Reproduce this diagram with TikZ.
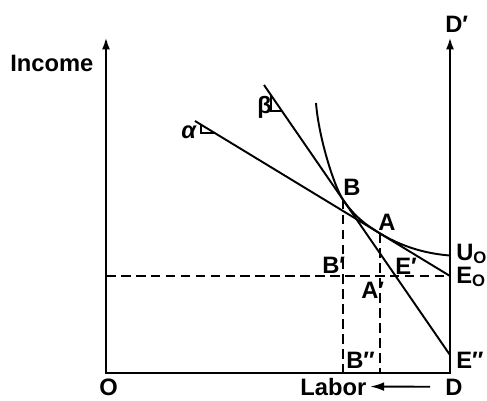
\documentclass[tikz,border=0pt]{standalone}
\usepackage{fontspec}
\setmainfont{Liberation Sans}
\usetikzlibrary{arrows.meta}

\newcommand{\lowsub}[1]{\raisebox{-0.3ex}{\fontsize{9.5}{10}\selectfont #1}}

\tikzset{
    axis/.style={line width=1.5pt, line join=miter},
    budget/.style={line width=1.1pt},
    guide/.style={line width=1pt, dash pattern=on 5.5pt off 3pt},
    lbl/.style={font=\fontsize{13.5}{16}\selectfont\bfseries, inner sep=0pt, anchor=base west},
    tip/.style={-{Latex[length=8pt,width=5pt]}},
}

\begin{document}
\begin{tikzpicture}[x=0.2cm,y=0.2cm]
    \useasboundingbox (-10.6,-2.7) rectangle (38.1,37.3);
    % puntos
    \coordinate (O) at (0,0);
    \coordinate (D) at (34.4,0);
    \coordinate (Itop) at (0,33.6);
    \coordinate (Dtop) at (34.4,33.6);
    \coordinate (H) at (0,9.7);
    \coordinate (E0) at (34.4,9.7);
    \coordinate (Epp) at (34.4,1.8);
    \coordinate (U0) at (34.4,11.75);
    \coordinate (alphaS) at (8.9,25.2);
    \coordinate (betaS) at (15.8,28.8);
    \coordinate (B) at (23.7,17.33);
    \coordinate (A) at (27.4,13.96);
    \coordinate (Utop) at (21.0,27.0);
    % ejes
    \draw[axis, {Latex[length=7pt,width=4.5pt]}-{Latex[length=7pt,width=4.5pt]}] (Itop) -- (O) -- (D) -- (Dtop);
    % lineas punteadas
    \draw[guide] (H) -- (E0);
    \draw[guide] (B) -- (B |- O);
    \draw[guide] (A) -- (A |- O);
    % rectas y curva
    \draw[budget] (alphaS) -- (E0);
    \draw[budget] (betaS) -- (Epp);
    \draw[budget] (Utop) .. controls (21.3,23.3) and (22.9,18.49) .. (B)
        .. controls (24.9,15.59) and (26.0,14.81) .. (A)
        .. controls (29.9,12.44) and (32.4,11.9) .. (U0);
    % angulos
    \path (alphaS) -- (E0) coordinate[pos=0.024] (a1) coordinate[pos=0.078] (a2);
    \path (betaS) -- (Epp) coordinate[pos=0.038] (b1) coordinate[pos=0.096] (b2);
    \draw[line width=1pt] (a1) |- (a2);
    \draw[line width=1pt] (b1) |- (b2);
    % etiquetas
    \node[lbl] (income) at (-9.6,30.1) {Income};
    \node[lbl] (o) at (-0.7,-2.2) {O};
    \node[lbl] (d) at (33.9,-2.2) {D};
    \node[lbl] (labor) at (19.4,-2.2) {Labor};
    \node[lbl] (dp) at (33.9,34.0) {D′};
    \node[lbl] (alpha) at (7.5,23.5) {\itshape α};
    \node[lbl] (beta) at (15.1,26.0) {β};
    \node[lbl] (lB) at (23.7,17.8) {B};
    \node[lbl] (lA) at (27.2,14.3) {A};
    \node[lbl] (lBp) at (21.6,10.0) {B′};
    \node[lbl] (lEp) at (28.9,9.9) {E′};
    \node[lbl] (lAp) at (25.5,7.5) {A′};
    \node[lbl] (lBpp) at (24.0,0.5) {B″};
    \node[lbl] (lEpp) at (35.0,0.5) {E″};
    \node[lbl] (lE0) at (35.0,9.0) {E\lowsub{O}};
    \node[lbl] (lU0) at (35.0,11.3) {U\lowsub{O}};
    \draw[tip, line width=1.1pt, shorten >=2pt, shorten <=8.5pt] (d.west) -- (labor.east);
\end{tikzpicture}
\end{document}
